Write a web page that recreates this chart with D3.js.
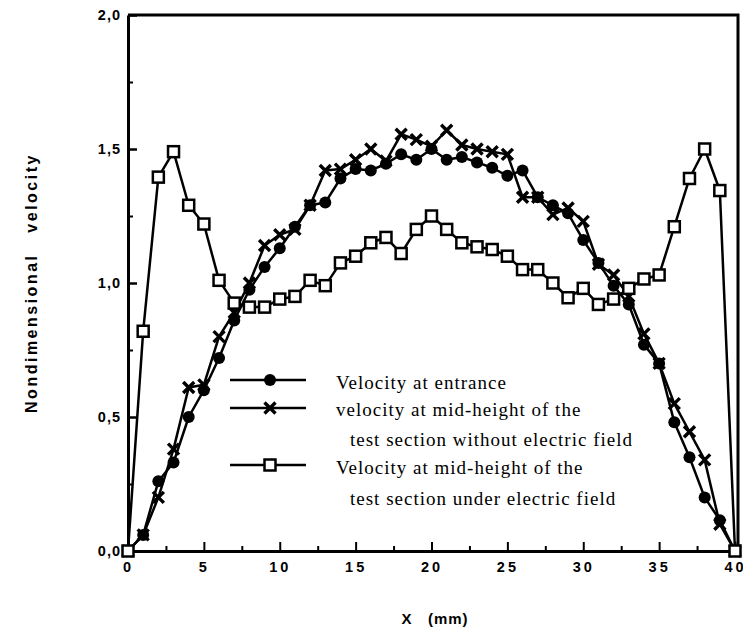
<!DOCTYPE html>
<html>
<head>
<meta charset="utf-8">
<script src="https://cdn.jsdelivr.net/npm/d3@7"></script>
<style>
  body { margin: 0; background: #fff; }
  svg text { fill: #000; }
</style>
</head>
<body>
<svg id="chart" width="743" height="637"></svg>
<script>
// x positions (mm)
const xMm = d3.range(0, 41);

// velocity at entrance (filled circles)
const entrance = [0, 0.06, 0.26, 0.33, 0.50, 0.60, 0.72, 0.86, 0.975, 1.06,
  1.13, 1.21, 1.29, 1.30, 1.39, 1.425, 1.42, 1.445, 1.48, 1.46,
  1.50, 1.46, 1.47, 1.45, 1.43, 1.40, 1.42, 1.32, 1.29, 1.26,
  1.16, 1.075, 0.99, 0.92, 0.77, 0.70, 0.48, 0.35, 0.20, 0.115, 0];

// mid-height, no electric field (crosses)
const noField = [0, 0.06, 0.20, 0.38, 0.61, 0.62, 0.80, 0.89, 1.00, 1.14,
  1.18, 1.20, 1.29, 1.42, 1.425, 1.46, 1.50, 1.455, 1.555, 1.535,
  1.51, 1.57, 1.515, 1.50, 1.49, 1.48, 1.32, 1.32, 1.255, 1.28,
  1.23, 1.07, 1.03, 0.95, 0.81, 0.70, 0.55, 0.445, 0.34, 0.10, 0];

// mid-height, under electric field (open squares)
const withField = [0, 0.82, 1.395, 1.49, 1.29, 1.22, 1.01, 0.925, 0.91, 0.91,
  0.94, 0.95, 1.01, 0.99, 1.075, 1.10, 1.15, 1.17, 1.11, 1.20,
  1.25, 1.20, 1.15, 1.135, 1.125, 1.10, 1.05, 1.05, 1.00, 0.945,
  0.98, 0.92, 0.94, 0.98, 1.015, 1.03, 1.21, 1.39, 1.50, 1.345, 0];

const xTicks = [0, 5, 10, 15, 20, 25, 30, 35, 40];
const xMinorTicks = [2.5, 7.5, 12.5, 17.5, 22.5, 27.5, 32.5, 37.5];
const yTicks = [0, 0.5, 1, 1.5, 2];
const yTickLabels = ["0,0", "0,5", "1,0", "1,5", "2,0"];
const yMinorTicks = [0.25, 0.75, 1.25, 1.75];

const legendLabels = [
  ["Velocity at entrance"],
  ["velocity at mid-height of the", "test section without electric field"],
  ["Velocity at mid-height of the", "test section under electric field"]
];

const svg = d3.select("#chart");

const x = d3.scaleLinear().domain([0, 40]).range([128, 735]);
const y = d3.scaleLinear().domain([0, 2]).range([551, 15]);

const tickFont = "'Liberation Sans', Arial, sans-serif";
const serif = "'Liberation Serif', 'Times New Roman', serif";

// minor ticks first
svg.append("g")
  .attr("transform", "translate(0," + y(0) + ")")
  .call(d3.axisBottom(x).tickValues(xMinorTicks).tickSize(-5).tickFormat(""))
  .call(g => g.select(".domain").remove())
  .selectAll("line").attr("stroke-width", 2);

svg.append("g")
  .attr("transform", "translate(" + x(0) + ",0)")
  .call(d3.axisLeft(y).tickValues(yMinorTicks).tickSize(-5).tickFormat(""))
  .call(g => g.select(".domain").remove())
  .selectAll("line").attr("stroke-width", 2);

// major axes
const xAxis = svg.append("g")
  .attr("transform", "translate(0," + y(0) + ")")
  .call(d3.axisBottom(x).tickValues(xTicks).tickSize(-9).tickSizeOuter(0).tickPadding(11));
xAxis.select(".domain").attr("stroke-width", 3);
xAxis.selectAll("line").attr("stroke-width", 2);
xAxis.selectAll("text")
  .attr("font-family", tickFont).attr("font-weight", "bold")
  .attr("font-size", 14.5).attr("letter-spacing", "3px");

const yAxis = svg.append("g")
  .attr("transform", "translate(" + x(0) + ",0)")
  .call(d3.axisLeft(y).tickValues(yTicks).tickSize(-9).tickSizeOuter(0).tickPadding(7)
    .tickFormat((d, i) => yTickLabels[i]));
yAxis.select(".domain").attr("stroke-width", 3);
yAxis.selectAll("line").attr("stroke-width", 2.5);
yAxis.selectAll("text")
  .attr("font-family", tickFont).attr("font-weight", "bold")
  .attr("font-size", 14.5).attr("letter-spacing", "1px");

// frame top and right
svg.append("path")
  .attr("d", "M" + x(0) + "," + y(2) + "H" + (x(40) + 3) + "V" + y(0))
  .attr("fill", "none").attr("stroke", "#000").attr("stroke-width", 3);

// axis titles
svg.append("text")
  .attr("transform", "translate(37," + y(1) + ") rotate(-90)")
  .attr("text-anchor", "middle")
  .attr("font-family", tickFont).attr("font-weight", "bold")
  .attr("font-size", 16).attr("letter-spacing", "2.5px")
  .attr("xml:space", "preserve")
  .text("Nondimensional   velocity");

svg.append("text")
  .attr("x", 435).attr("y", 624)
  .attr("text-anchor", "middle")
  .attr("font-family", tickFont).attr("font-weight", "bold")
  .attr("font-size", 15).attr("letter-spacing", "1px")
  .attr("xml:space", "preserve")
  .text("X   (mm)");

// series lines
const line = d3.line().x((d, i) => x(xMm[i])).y(d => y(d));
const series = [withField, noField, entrance];
svg.selectAll(".series")
  .data(series)
  .enter().append("path")
  .attr("class", "series")
  .attr("d", line)
  .attr("fill", "none").attr("stroke", "#000")
  .attr("stroke-width", 2.5).attr("stroke-linejoin", "round");

// markers
function circleMark(g, cx, cy) {
  g.append("circle").attr("cx", cx).attr("cy", cy).attr("r", 6).attr("fill", "#000");
}
function crossMark(g, cx, cy) {
  const s = 5.5;
  g.append("path")
    .attr("d", "M" + (cx - s) + "," + (cy - s) + "L" + (cx + s) + "," + (cy + s) +
      "M" + (cx - s) + "," + (cy + s) + "L" + (cx + s) + "," + (cy - s))
    .attr("stroke", "#000").attr("stroke-width", 3.4).attr("fill", "none");
}
function squareMark(g, cx, cy) {
  g.append("rect").attr("x", cx - 5.5).attr("y", cy - 5.5).attr("width", 11).attr("height", 11)
    .attr("fill", "#fff").attr("stroke", "#000").attr("stroke-width", 2.5);
}

const marks = svg.append("g");
entrance.forEach((v, i) => circleMark(marks, x(xMm[i]), y(v)));
noField.forEach((v, i) => crossMark(marks, x(xMm[i]), y(v)));
withField.forEach((v, i) => squareMark(marks, x(xMm[i]), y(v)));

// legend
const legend = svg.append("g");
const legendRows = [
  { ly: 380, mark: circleMark, textY: [389] },
  { ly: 408, mark: crossMark, textY: [416, 446] },
  { ly: 465, mark: squareMark, textY: [474, 505] }
];
legendRows.forEach((r, k) => {
  legend.append("line").attr("x1", 230).attr("x2", 306).attr("y1", r.ly).attr("y2", r.ly)
    .attr("stroke", "#000").attr("stroke-width", 2.5);
  r.mark(legend, 270, r.ly);
  legendLabels[k].forEach((t, j) => {
    legend.append("text")
      .attr("x", j === 0 ? 336 : 350).attr("y", r.textY[j])
      .attr("font-family", serif).attr("font-size", 19)
      .attr("letter-spacing", "1px")
      .text(t);
  });
});
</script>
</body>
</html>
